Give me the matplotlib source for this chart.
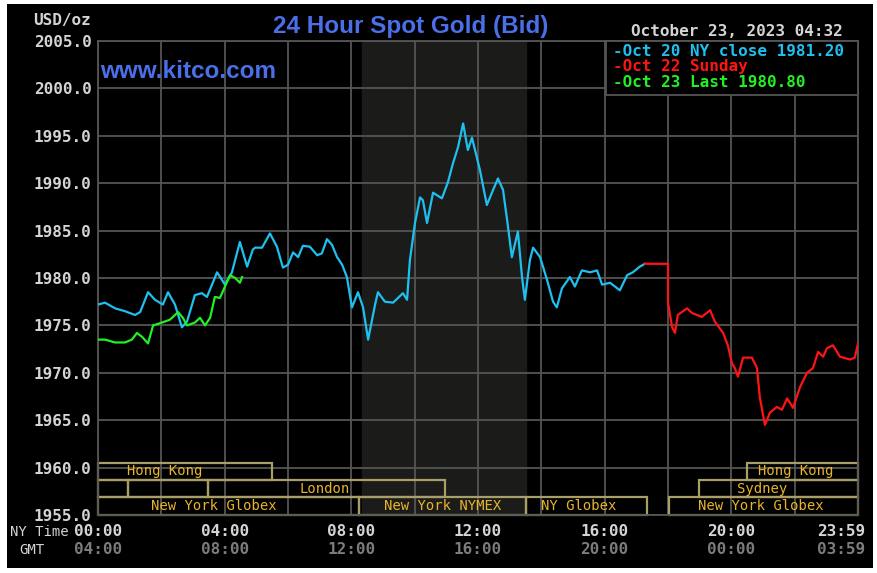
import matplotlib
matplotlib.use("Agg")
import matplotlib.pyplot as plt
from matplotlib.patches import Rectangle
from matplotlib.transforms import ScaledTranslation

# Oct 20 (NY time, hours) - cyan
oct20_hours = [0.00, 0.22, 0.54, 0.85, 1.17, 1.33, 1.58, 1.80, 2.05, 2.21, 2.43, 2.65, 2.81,
               3.06, 3.28, 3.44, 3.76, 4.01, 4.23, 4.48, 4.71, 4.89, 4.96, 5.18, 5.43, 5.65,
               5.84, 6.00, 6.16, 6.32, 6.47, 6.69, 6.92, 7.07, 7.23, 7.39, 7.55, 7.71, 7.86,
               8.02, 8.21, 8.37, 8.53, 8.75, 8.84, 9.06, 9.32, 9.63, 9.76, 9.85, 10.01, 10.17,
               10.26, 10.39, 10.58, 10.86, 11.05, 11.21, 11.37, 11.53, 11.68, 11.81, 12.06,
               12.28, 12.44, 12.63, 12.79, 12.92, 13.07, 13.26, 13.39, 13.48, 13.64, 13.74,
               13.96, 14.18, 14.37, 14.49, 14.65, 14.90, 15.06, 15.28, 15.54, 15.76, 15.92,
               16.17, 16.48, 16.71, 16.89, 17.11, 17.27]
oct20_price = [1977.2, 1977.4, 1976.8, 1976.5, 1976.1, 1976.4, 1978.5, 1977.7, 1977.2, 1978.5,
               1977.2, 1974.8, 1975.4, 1978.2, 1978.4, 1978.0, 1980.6, 1979.3, 1980.6, 1983.8,
               1981.2, 1983.0, 1983.2, 1983.2, 1984.7, 1983.3, 1981.1, 1981.4, 1982.7, 1982.2,
               1983.4, 1983.3, 1982.4, 1982.6, 1984.1, 1983.5, 1982.2, 1981.4, 1980.1, 1976.9,
               1978.5, 1976.9, 1973.5, 1977.2, 1978.5, 1977.5, 1977.4, 1978.4, 1977.7, 1981.9,
               1985.8, 1988.5, 1988.2, 1985.8, 1989.0, 1988.4, 1990.1, 1992.1, 1993.8, 1996.3,
               1993.5, 1994.8, 1991.4, 1987.7, 1989.0, 1990.5, 1989.3, 1986.1, 1982.2, 1984.9,
               1980.1, 1977.7, 1981.9, 1983.2, 1982.2, 1979.8, 1977.5, 1976.9, 1978.9, 1980.1,
               1979.1, 1980.8, 1980.6, 1980.8, 1979.3, 1979.5, 1978.7, 1980.3, 1980.6, 1981.2,
               1981.5]

# Oct 22 Sunday - red
oct22_hours = [17.27, 18.00, 18.00, 18.13, 18.22, 18.31, 18.60, 18.76, 19.07, 19.33, 19.48,
               19.74, 19.89, 20.02, 20.11, 20.21, 20.37, 20.65, 20.81, 20.90, 21.06, 21.22,
               21.44, 21.60, 21.76, 21.95, 22.17, 22.39, 22.58, 22.74, 22.90, 23.02, 23.21,
               23.43, 23.75, 23.90, 24.00]
oct22_price = [1981.5, 1981.5, 1977.4, 1974.8, 1974.2, 1976.1, 1976.8, 1976.3, 1975.9, 1976.6,
               1975.4, 1974.2, 1972.9, 1971.0, 1970.5, 1969.6, 1971.6, 1971.6, 1970.5, 1967.4,
               1964.5, 1965.8, 1966.4, 1966.1, 1967.3, 1966.3, 1968.5, 1970.0, 1970.5, 1972.2,
               1971.7, 1972.6, 1972.9, 1971.7, 1971.4, 1971.6, 1973.1]

# Oct 23 last - green
oct23_hours = [0.00, 0.22, 0.54, 0.85, 1.07, 1.23, 1.39, 1.58, 1.74, 2.02, 2.27, 2.53, 2.68,
               2.81, 3.06, 3.22, 3.38, 3.54, 3.69, 3.85, 4.01, 4.17, 4.33, 4.48, 4.55]
oct23_price = [1973.5, 1973.5, 1973.2, 1973.2, 1973.5, 1974.2, 1973.8, 1973.1, 1975.0, 1975.3,
               1975.6, 1976.4, 1975.8, 1975.0, 1975.3, 1975.8, 1975.0, 1975.8, 1978.0, 1977.9,
               1979.1, 1980.3, 1980.0, 1979.5, 1980.1]

legend_labels = ["-Oct 20 NY close 1981.20", "-Oct 22 Sunday", "-Oct 23 Last 1980.80"]

ny_ticks = [0, 4, 8, 12, 16, 20, 23.98]
ny_labels = ["00:00", "04:00", "08:00", "12:00", "16:00", "20:00", "23:59"]
gmt_labels = ["04:00", "08:00", "12:00", "16:00", "20:00", "00:00", "03:59"]

# market sessions: name, start hour, end hour, row (0 = top), label hour
session_names = ["Hong Kong", "", "", "London", "New York Globex", "New York NYMEX",
                 "NY Globex", "Hong Kong", "Sydney", "New York Globex"]
session_start = [0, 0, 0.95, 3.47, 0, 8.24, 13.51, 20.49, 18.98, 18.03]
session_end = [5.49, 0.95, 3.47, 10.96, 8.24, 13.51, 17.34, 24, 24, 24]
session_row = [0, 1, 1, 1, 2, 2, 2, 0, 1, 2]
session_label_x = [2.12, 0, 0, 7.17, 3.66, 10.89, 15.19, 22.04, 20.97, 20.94]

nymex_open, nymex_close = 8.33, 13.5

CYAN = "#1ec0f0"
RED = "#ff1414"
GREEN = "#22f022"
BLUE = "#4a6fe8"
GRID = "#555555"
BOX = "#a89f68"
GOLD = "#e8b42c"
LIGHT = "#d4d4d4"
mono = "DejaVu Sans Mono"

fig = plt.figure(figsize=(8.78, 5.73), dpi=100, facecolor="white")
fig.patches.append(Rectangle((7 / 878, 5 / 573), 866 / 878, 564 / 573,
                             transform=fig.transFigure, facecolor="black",
                             edgecolor="none", zorder=-10))

ax = fig.add_axes([98 / 878, 1 - 515 / 573, 760 / 878, 474 / 573])
ax.set_facecolor("black")
ax.set_xlim(0, 24)
ax.set_ylim(1955, 2005)

ax.axvspan(nymex_open, nymex_close, color="#1b1b19", zorder=0)

ax.set_xticks(range(0, 25, 2))
ax.set_yticks(range(1955, 2006, 5))
ax.grid(True, color=GRID, linewidth=1.3, zorder=1)
ax.set_axisbelow(True)
for s in ax.spines.values():
    s.set_color(GRID)
    s.set_linewidth(1.3)
ax.tick_params(length=0, labelbottom=False, pad=4.5, labelcolor=LIGHT)
ax.set_yticklabels([f"{v:.1f}" for v in range(1955, 2006, 5)],
                   fontfamily=mono, fontweight="bold", fontsize=11.5)

# sessions
row_edges = [(1958.69, 1960.52), (1956.87, 1958.69), (1955.0, 1956.87)]
for name, x0, x1, row, lx in zip(session_names, session_start, session_end,
                                 session_row, session_label_x):
    y0, y1 = row_edges[row]
    ax.add_patch(Rectangle((x0, y0), x1 - x0, y1 - y0, facecolor="none",
                           edgecolor=BOX, linewidth=1.6, zorder=2, clip_on=False))
    if name:
        ax.text(lx, (y0 + y1) / 2, name, color=GOLD, fontfamily=mono, fontsize=10,
                ha="center", va="center", zorder=3)

ax.plot(oct20_hours, oct20_price, color=CYAN, linewidth=1.6, zorder=4)
ax.plot(oct22_hours, oct22_price, color=RED, linewidth=1.6, zorder=4)
ax.plot(oct23_hours, oct23_price, color=GREEN, linewidth=1.6, zorder=5)

# x labels (NY time and GMT); the last pair is shifted left to stay inside the frame
xt = ax.get_xaxis_transform()
for i, (x, a, b) in enumerate(zip(ny_ticks, ny_labels, gmt_labels)):
    tr = xt
    if i == len(ny_ticks) - 1:
        tr = xt + ScaledTranslation(-16 / 100, 0, fig.dpi_scale_trans)
    ax.text(x, -16 / 474, a, transform=tr, ha="center", va="center", color=LIGHT,
            fontfamily=mono, fontweight="bold", fontsize=11.5, clip_on=False)
    ax.text(x, -35 / 474, b, transform=tr, ha="center", va="center", color="#7c7c7c",
            fontfamily=mono, fontweight="bold", fontsize=11.5, clip_on=False)
fig.text(39 / 878, 1 - 532 / 573, "NY Time", color=LIGHT, fontfamily=mono,
         fontsize=10, ha="center", va="center")
fig.text(32 / 878, 1 - 550 / 573, "GMT", color=LIGHT, fontfamily=mono,
         fontsize=10, ha="center", va="center")

# header
fig.text(62 / 878, 1 - 21 / 573, "USD/oz", color=LIGHT, fontfamily=mono,
         fontweight="bold", fontsize=11.5, ha="center", va="center")
fig.text(411 / 878, 1 - 26 / 573, "24 Hour Spot Gold (Bid)", color=BLUE,
         fontfamily="Liberation Sans", fontweight="bold", fontsize=17.5,
         ha="center", va="center")
fig.text(100 / 878, 1 - 71 / 573, "www.kitco.com", color=BLUE,
         fontfamily="Liberation Sans", fontweight="bold", fontsize=17.5,
         ha="left", va="center")
fig.text(843 / 878, 1 - 32 / 573, "October 23, 2023 04:32", color=LIGHT,
         fontfamily=mono, fontweight="bold", fontsize=11.5, ha="right", va="center")

# legend box
fig.patches.append(Rectangle((606 / 878, 1 - 95 / 573), 252 / 878, 54 / 573,
                             transform=fig.transFigure, facecolor="black",
                             edgecolor=GRID, linewidth=1.3, zorder=6))
for label, color, y in zip(legend_labels, [CYAN, RED, GREEN], [52, 67, 83]):
    fig.text(613 / 878, 1 - y / 573, label, color=color, fontfamily=mono,
             fontweight="bold", fontsize=11.5, ha="left", va="center", zorder=7)

fig.savefig("out.png", dpi=100, facecolor=fig.get_facecolor())
